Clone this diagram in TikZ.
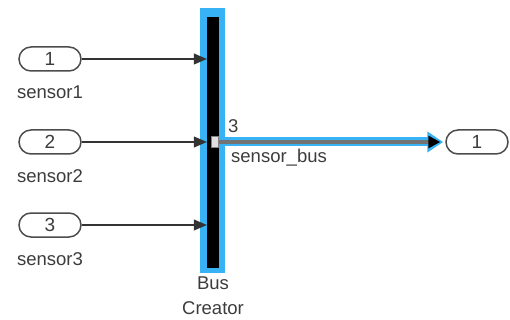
\documentclass[tikz,border=0pt]{standalone}
\usepackage{fontspec}
\setmainfont{Liberation Sans}
\usetikzlibrary{arrows.meta}
\definecolor{hl}{RGB}{55,178,245}
\definecolor{txt}{RGB}{60,60,60}
\tikzset{
  port/.style={draw=black!70, line width=1.5pt, fill=white, rounded corners=12pt,
    minimum width=62pt, minimum height=24pt, inner sep=0pt,
    font=\fontsize{19}{21}\selectfont, text=txt},
  lbl/.style={font=\fontsize{18.5}{20}\selectfont, text=txt, inner sep=0pt},
  sig/.style={draw=black!80, line width=1.1pt, -{Triangle[length=13pt,width=11pt]}}
}
\begin{document}
\begin{tikzpicture}[x=1pt,y=-1pt]
\useasboundingbox (0,0) rectangle (510,320);
% bus creator
\node[fill=hl, minimum width=25pt, minimum height=265pt, inner sep=0pt] (glow) at (212.5,140.5) {};
\node[fill=black, minimum width=12pt, minimum height=251pt, inner sep=0pt] (bus) at (213,142.5) {};
\node[lbl, align=center, font=\fontsize{18.5}{25}\selectfont, anchor=north] (buslbl) at (213,277) {Bus\\Creator};
% inports
\node[port] (in1) at (50,59) {1};
\node[port] (in2) at (50,142) {2};
\node[port] (in3) at (50,225) {3};
\node[lbl] (l1) at (50,92) {sensor1};
\node[lbl] (l2) at (50,176) {sensor2};
\node[lbl] (l3) at (50,259) {sensor3};
\draw[sig] (in1.east) -- (in1.east -| bus.west);
\draw[sig] (in2.east) -- (in2.east -| bus.west);
\draw[sig] (in3.east) -- (in3.east -| bus.west);
% outport
\node[port] (out1) at (477,142) {1};
\coordinate (busout) at (bus.east |- out1.west);
\draw[hl, line width=9pt, -{Triangle[length=16pt,width=20pt]}] (busout) -- ([xshift=-2pt]out1.west);
\draw[black!55, line width=4.5pt, -{Triangle[length=12pt,width=12pt,fill=black,color=black]}] (busout) -- ([xshift=-5pt]out1.west);
\node[fill=gray!25, draw=gray, minimum width=7pt, minimum height=11pt, inner sep=0pt] (pt) at (214.5,142) {};
\node[lbl, anchor=south west] (n3) at (228,133) {3};
\node[lbl, anchor=west] (sb) at (231,158) {sensor\_bus};
\end{tikzpicture}
\end{document}
